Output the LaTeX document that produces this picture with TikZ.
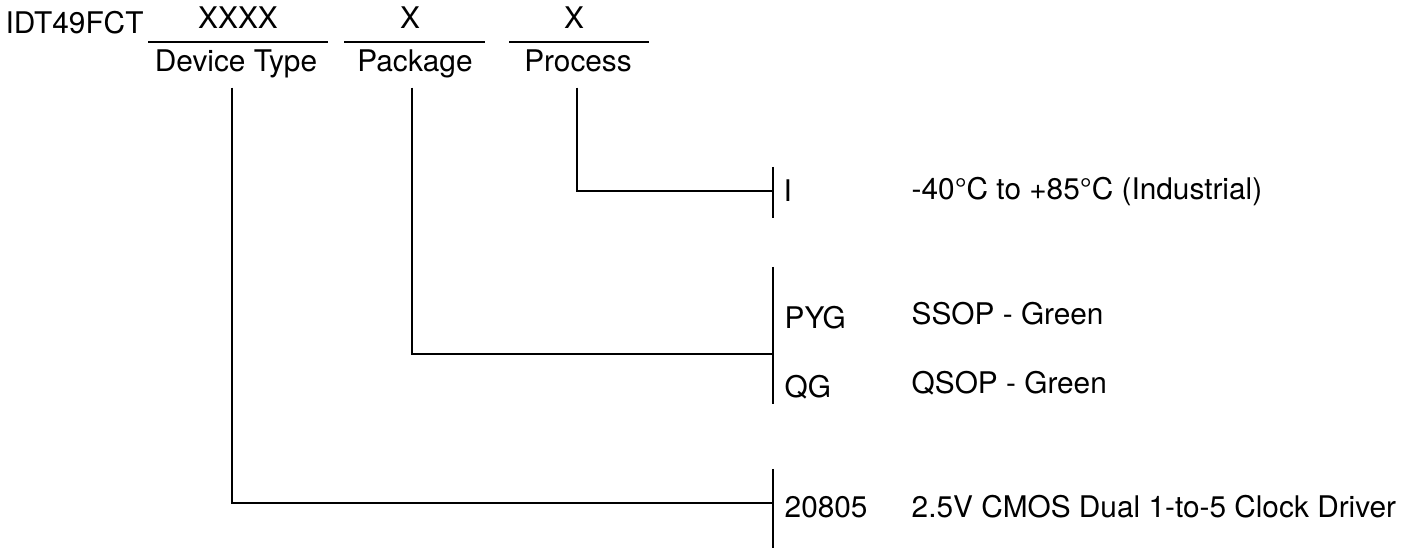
\documentclass[tikz,border=0pt]{standalone}
\usepackage{fontspec}
\setmainfont{TeX Gyre Heros}
\usepackage{tikz}

\begin{document}
\begin{tikzpicture}[x=0.5pt,y=-0.5pt,line width=0.7pt,
        font=\fontsize{14.9pt}{17pt}\selectfont,
        lbl/.style={inner sep=0pt,anchor=base west},
        fld/.style={inner sep=0pt,anchor=base,text depth=7.5pt}]
            \useasboundingbox (0,0) rectangle (1419,550);
            \node[lbl] (1) at (5,34) {IDT49FCT};
            \node[inner sep=0pt,anchor=base] (2) at (238,29) {XXXX};
            \node[inner sep=0pt,anchor=base] (3) at (410,29) {X};
            \node[inner sep=0pt,anchor=base] (4) at (574,29) {X};
            \draw (148,42) -- (328,42);
            \draw (344,42) -- (485,42);
            \draw (509,42) -- (649,42);
            \node[fld] (5) at (236,72) {Device Type};
            \node[fld] (6) at (415,72) {Package};
            \node[fld] (7) at (578,72) {Process};
            % bars on the right
            \coordinate (8) at (773,191);
            \coordinate (9) at (773,354);
            \coordinate (10) at (773,503);
            \draw (773,167) -- (773,218);
            \draw (773,267) -- (773,404);
            \draw (773,469) -- (773,548);
            \draw ([xshift=-0.5pt]7.south) |- (8);
            \draw ([xshift=-1.5pt]6.south) |- (9);
            \draw ([xshift=-2pt]5.south) |- (10);
            \node[lbl] (11) at (783,202) {I};
            \node[lbl] (12) at (911,200) {-40°C to +85°C (Industrial)};
            \node[lbl] (13) at (784,329) {PYG};
            \node[lbl] (14) at (911,325) {SSOP - Green};
            \node[lbl] (15) at (784,398) {QG};
            \node[lbl] (16) at (911,394) {QSOP - Green};
            \node[lbl] (17) at (784,517) {20805};
            \node[lbl] (18) at (911,517) {2.5V CMOS Dual 1-to-5 Clock Driver};
        \end{tikzpicture}
\end{document}
